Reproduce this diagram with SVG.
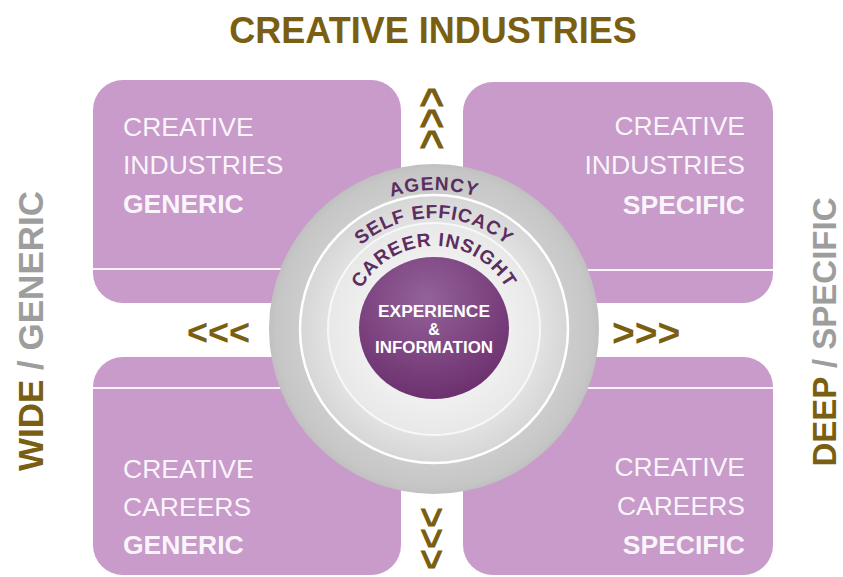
<svg xmlns="http://www.w3.org/2000/svg" width="843" height="577" viewBox="0 0 843 577">
  <style>
    .olive { fill: #7a5f12; }
    .grey { fill: #9d9d9d; }
    .head { font-family: "Liberation Sans", Arial, sans-serif; font-weight: bold; }
    .box { fill: #c89bca; }
    .divider { stroke: #ffffff; stroke-width: 2; stroke-opacity: 0.9; }
    .label { font-family: "Liberation Sans", Arial, sans-serif; font-size: 26.5px; fill: #ffffff; fill-opacity: 0.92; }
    .label-r { text-anchor: end; }
    .strong { font-weight: bold; }
    .ring-text { font-family: "Liberation Sans", Arial, sans-serif; font-weight: bold; font-size: 19px; fill: #5b2d60; }
    .core-text { font-family: "Liberation Sans", Arial, sans-serif; font-weight: bold; font-size: 16px; fill: #ffffff; text-anchor: middle; }
    .chev { font-family: "Liberation Sans", Arial, sans-serif; font-weight: bold; fill: #7a5f12; }
  </style>
  <defs>
    <radialGradient id="ringOuter" gradientUnits="userSpaceOnUse" cx="434" cy="329" r="165">
      <stop offset="0.8" stop-color="#cdcdcd"/>
      <stop offset="0.96" stop-color="#c6c6c6"/>
      <stop offset="1" stop-color="#c0c0c0"/>
    </radialGradient>
    <radialGradient id="ringMid" gradientUnits="userSpaceOnUse" cx="434" cy="329" r="134">
      <stop offset="0.79" stop-color="#e2e2e2"/>
      <stop offset="1" stop-color="#d6d6d6"/>
    </radialGradient>
    <radialGradient id="ringInner" gradientUnits="userSpaceOnUse" cx="434" cy="329" r="106">
      <stop offset="0.7" stop-color="#efefef"/>
      <stop offset="1" stop-color="#e8e8e8"/>
    </radialGradient>
    <radialGradient id="corePurple" cx="0.45" cy="0.3" r="0.75">
      <stop offset="0" stop-color="#94629a"/>
      <stop offset="1" stop-color="#6a2d6c"/>
    </radialGradient>
    <!-- baselines for the curved ring labels (top half-circles, clockwise) -->
    <path id="arcAgency" d="M 295 329 A 139 139 0 0 1 573 329"/>
    <path id="arcEfficacy" d="M 323 329 A 111 111 0 0 1 545 329"/>
    <path id="arcInsight" d="M 351 329 A 83 83 0 0 1 517 329"/>
  </defs>

  <rect width="843" height="577" fill="#ffffff"/>

  <!-- title -->
  <g id="title">
    <text class="head olive" x="433" y="43" font-size="36" text-anchor="middle">CREATIVE INDUSTRIES</text>
  </g>

  <!-- side axis labels -->
  <g id="axis-wide">
    <text class="head" font-size="35" text-anchor="middle" transform="translate(43,331) rotate(-90)"><tspan class="olive">WIDE</tspan><tspan class="grey"> / GENERIC</tspan></text>
  </g>
  <g id="axis-deep">
    <text class="head" font-size="33" text-anchor="middle" transform="translate(836,332) rotate(-90)"><tspan class="olive">DEEP</tspan><tspan class="grey"> / SPECIFIC</tspan></text>
  </g>

  <!-- quadrant boxes -->
  <g id="box-industries-generic">
    <rect class="box" x="93" y="80" width="308" height="223" rx="30"/>
    <line class="divider" x1="93" y1="269" x2="401" y2="269"/>
    <text class="label" x="123" y="136">CREATIVE</text>
    <text class="label" x="123" y="174">INDUSTRIES</text>
    <text class="label strong" x="123" y="213">GENERIC</text>
  </g>
  <g id="box-industries-specific">
    <rect class="box" x="463" y="82" width="310" height="221" rx="30"/>
    <line class="divider" x1="463" y1="270" x2="773" y2="270"/>
    <text class="label label-r" x="745" y="135">CREATIVE</text>
    <text class="label label-r" x="745" y="174">INDUSTRIES</text>
    <text class="label label-r strong" x="745" y="214">SPECIFIC</text>
  </g>
  <g id="box-careers-generic">
    <rect class="box" x="93" y="357" width="308" height="218" rx="30"/>
    <line class="divider" x1="93" y1="388" x2="401" y2="388"/>
    <text class="label" x="123" y="478">CREATIVE</text>
    <text class="label" x="123" y="516">CAREERS</text>
    <text class="label strong" x="123" y="554">GENERIC</text>
  </g>
  <g id="box-careers-specific">
    <rect class="box" x="463" y="357" width="310" height="218" rx="30"/>
    <line class="divider" x1="463" y1="388" x2="773" y2="388"/>
    <text class="label label-r" x="745" y="476">CREATIVE</text>
    <text class="label label-r" x="745" y="515">CAREERS</text>
    <text class="label label-r strong" x="745" y="554">SPECIFIC</text>
  </g>

  <!-- concentric core -->
  <g id="core">
    <circle cx="434" cy="329" r="165" fill="url(#ringOuter)"/>
    <circle cx="434" cy="329" r="134" fill="url(#ringMid)" stroke="#ffffff" stroke-width="2.5"/>
    <circle cx="434" cy="329" r="106" fill="url(#ringInner)" stroke="#f8f8f8" stroke-width="2"/>
    <ellipse cx="434" cy="328" rx="75" ry="71" fill="url(#corePurple)"/>
    <text class="ring-text" letter-spacing="1"><textPath href="#arcAgency" startOffset="50%" text-anchor="middle">AGENCY</textPath></text>
    <text class="ring-text" letter-spacing="0.8"><textPath href="#arcEfficacy" startOffset="50%" text-anchor="middle">SELF EFFICACY</textPath></text>
    <text class="ring-text" letter-spacing="1"><textPath href="#arcInsight" startOffset="50%" text-anchor="middle">CAREER INSIGHT</textPath></text>
    <text class="core-text" x="434" y="317" textLength="112" lengthAdjust="spacingAndGlyphs">EXPERIENCE</text>
    <text class="core-text" x="434" y="335">&amp;</text>
    <text class="core-text" x="434" y="353" textLength="118" lengthAdjust="spacingAndGlyphs">INFORMATION</text>
  </g>

  <!-- direction chevrons: horizontal runs, plus vertical runs turned a quarter -->
  <g id="connectors">
    <text class="chev" x="187" y="345" font-size="36">&lt;&lt;&lt;</text>
    <text class="chev" x="612" y="346" font-size="39">&gt;&gt;&gt;</text>
    <text class="chev" font-size="36" transform="translate(417,87) rotate(90) scale(1,1.25)">&lt;&lt;&lt;</text>
    <text class="chev" font-size="36" transform="translate(418,507) rotate(90) scale(1,1.15)">&gt;&gt;&gt;</text>
  </g>
</svg>
